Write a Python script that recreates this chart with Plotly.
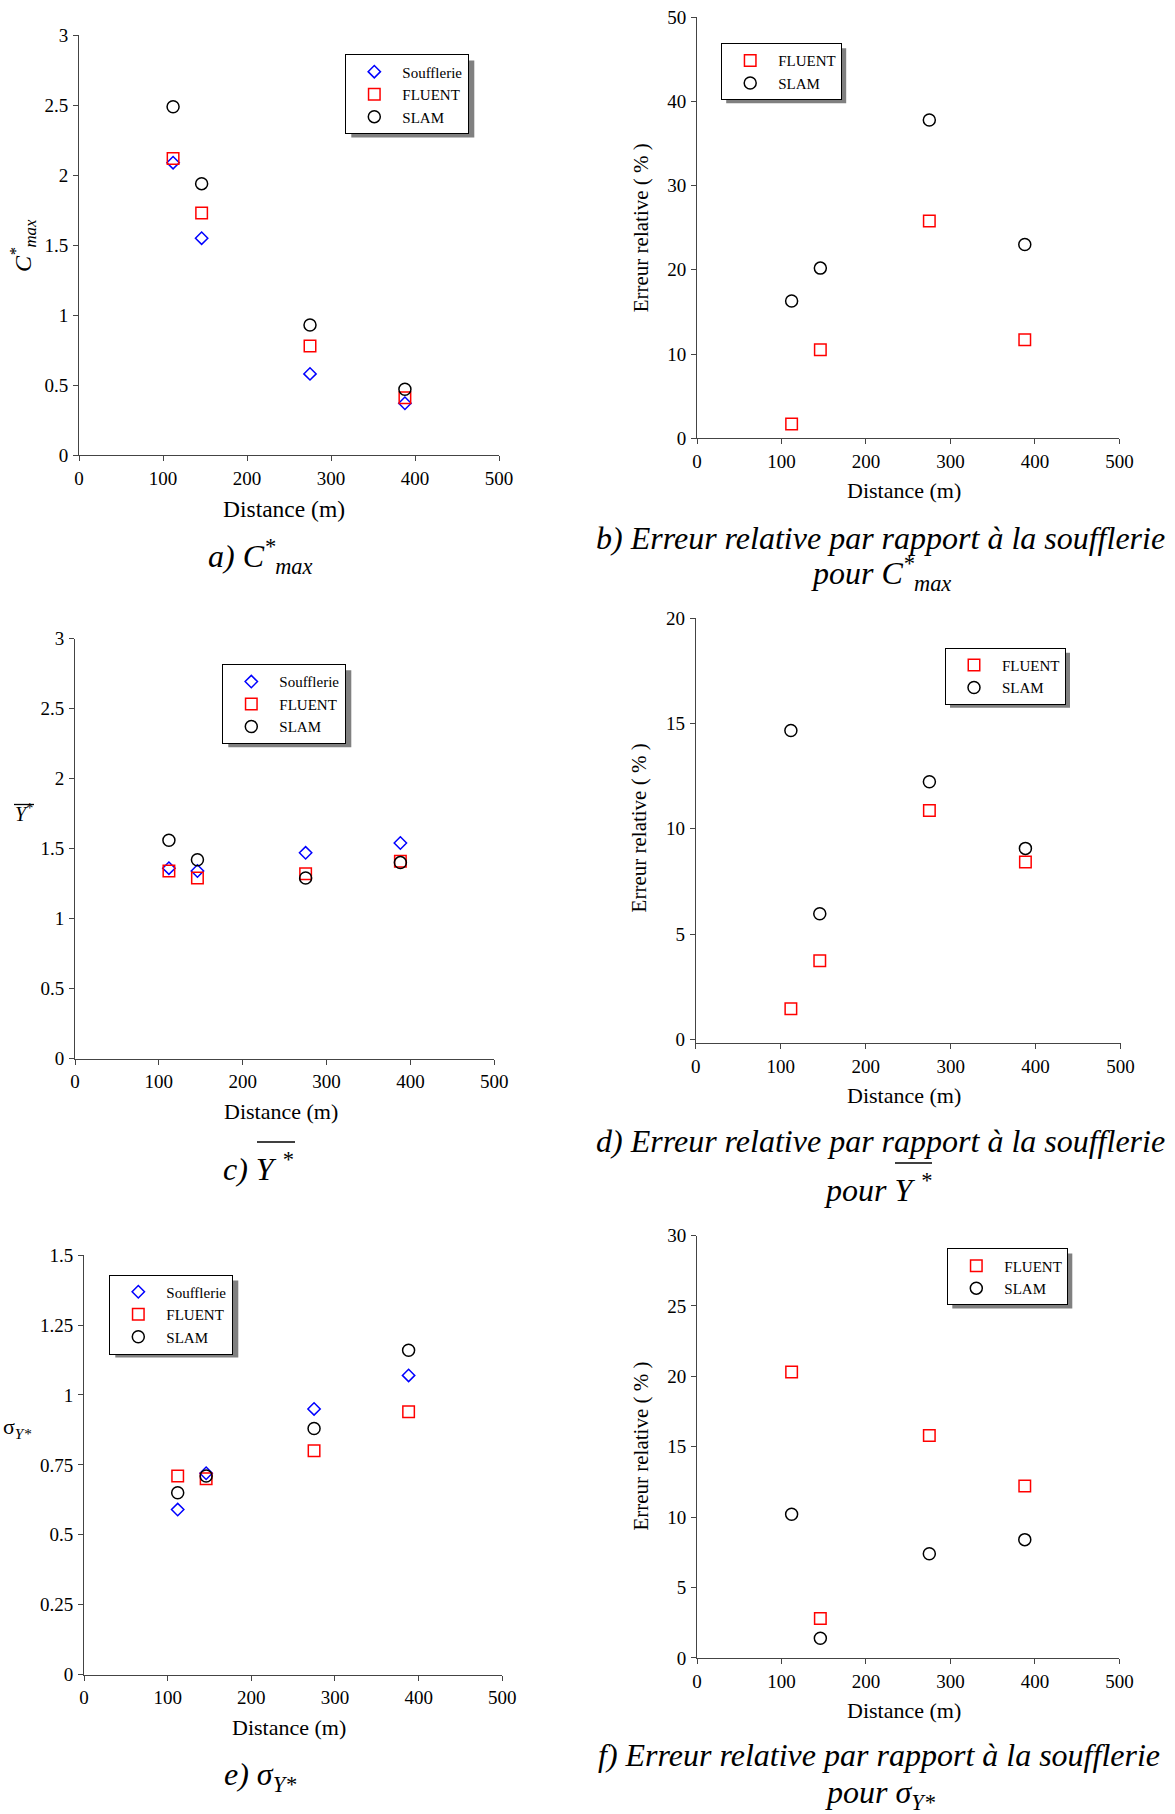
import plotly.graph_objects as go

W, H = 1175, 1814
FONT = "Liberation Serif, Times New Roman, serif"
AX = "#444444"

# ---------------- data ----------------
distance_m = [112, 146, 275, 388]
x_tick_vals = [0, 100, 200, 300, 400, 500]

cmax_soufflerie = [2.09, 1.55, 0.58, 0.37]
cmax_fluent = [2.12, 1.73, 0.78, 0.41]
cmax_slam = [2.49, 1.94, 0.93, 0.47]

err_cmax_fluent = [1.7, 10.5, 25.8, 11.7]
err_cmax_slam = [16.3, 20.2, 37.8, 23.0]

ymean_soufflerie = [1.36, 1.34, 1.47, 1.54]
ymean_fluent = [1.34, 1.29, 1.32, 1.41]
ymean_slam = [1.56, 1.42, 1.29, 1.40]

err_ymean_fluent = [1.45, 3.73, 10.87, 8.42]
err_ymean_slam = [14.67, 5.96, 12.24, 9.07]

sigma_soufflerie = [0.59, 0.72, 0.95, 1.07]
sigma_fluent = [0.71, 0.70, 0.80, 0.94]
sigma_slam = [0.65, 0.71, 0.88, 1.16]

err_sigma_fluent = [20.3, 2.8, 15.8, 12.2]
err_sigma_slam = [10.2, 1.4, 7.4, 8.4]

# ---------------- styles ----------------
STY = {
    "Soufflerie": dict(symbol="diamond-open", color="#0000FF", size=9.5),
    "FLUENT": dict(symbol="square-open", color="#FF0000", size=11.5),
    "SLAM": dict(symbol="circle-open", color="#000000", size=12),
}


def fx(p):
    return p / W


def fy(p):
    return 1 - p / H


# pixel boxes of plotting areas: (left, right, top, bottom), y range, dtick, legend top-left
panels = [
    dict(box=(79, 499, 35.4, 455), yr=[0, 3], dt=0.5, leg=(345.3, 54.4), shadow=6,
         series=[("Soufflerie", cmax_soufflerie), ("FLUENT", cmax_fluent), ("SLAM", cmax_slam)]),
    dict(box=(697, 1119.4, 17.2, 438.2), yr=[0, 50], dt=10, leg=(721.2, 43.2), shadow=5,
         series=[("FLUENT", err_cmax_fluent), ("SLAM", err_cmax_slam)]),
    dict(box=(75, 494.3, 638.7, 1058.5), yr=[0, 3], dt=0.5, leg=(222.3, 664.3), shadow=6,
         series=[("Soufflerie", ymean_soufflerie), ("FLUENT", ymean_fluent), ("SLAM", ymean_slam)]),
    dict(box=(695.7, 1120.6, 618.4, 1042.8), yr=[-0.17, 20], dt=5, leg=(945, 647.8), shadow=5,
         series=[("FLUENT", err_ymean_fluent), ("SLAM", err_ymean_slam)]),
    dict(box=(84, 502.3, 1255.2, 1674.5), yr=[0, 1.5], dt=0.25, leg=(109.3, 1274.5), shadow=6,
         series=[("Soufflerie", sigma_soufflerie), ("FLUENT", sigma_fluent), ("SLAM", sigma_slam)]),
    dict(box=(697, 1119.4, 1235.5, 1657.9), yr=[0, 30], dt=5, leg=(947.3, 1248.4), shadow=5,
         series=[("FLUENT", err_sigma_fluent), ("SLAM", err_sigma_slam)]),
]

# approximate rendered legend box sizes (px) for 3- and 2-entry legends
LEG_SIZE = {3: (123, 77), 2: (120, 55)}

fig = go.Figure()
layout = dict(
    width=W, height=H, margin=dict(l=0, r=0, t=0, b=0, autoexpand=False),
    paper_bgcolor="white", plot_bgcolor="white",
    font=dict(family=FONT, color="black"),
    showlegend=True,
)
shapes = []

for i, p in enumerate(panels):
    n = i + 1
    sfx = "" if n == 1 else str(n)
    L, R, T, B = p["box"]
    for name, vals in p["series"]:
        st = STY[name]
        fig.add_trace(go.Scatter(
            x=distance_m, y=vals, mode="markers", name=name,
            marker=dict(symbol=st["symbol"], size=st["size"], color=st["color"],
                        line=dict(color=st["color"], width=1.5)),
            xaxis="x" + sfx, yaxis="y" + sfx, legend="legend" + sfx,
        ))
    common = dict(showline=True, linecolor=AX, linewidth=1, ticks="outside", ticklen=5,
                  tickcolor=AX, tickwidth=1, showgrid=False, zeroline=False, automargin=False,
                  tickfont=dict(family=FONT, size=19, color="black"), fixedrange=True)
    layout["xaxis" + sfx] = dict(domain=[fx(L), fx(R)], range=[0, 500], tickvals=x_tick_vals,
                                 anchor="y" + sfx, ticklabelstandoff=1, **common)
    layout["yaxis" + sfx] = dict(domain=[fy(B), fy(T)], range=p["yr"], dtick=p["dt"], tick0=0,
                                 anchor="x" + sfx, ticklabelstandoff=1, **common)
    lx, ly = p["leg"]
    layout["legend" + sfx] = dict(
        x=fx(lx), y=fy(ly), xanchor="left", yanchor="top",
        bgcolor="white", bordercolor="black", borderwidth=1,
        font=dict(family=FONT, size=15, color="black"), itemwidth=46,
        tracegroupgap=0,
    )
    # drop shadow of the legend box
    lw, lh = LEG_SIZE[len(p["series"])]
    o = p["shadow"]
    shapes.append(dict(type="rect", xref="paper", yref="paper",
                       x0=fx(lx + o), x1=fx(lx + lw + o), y0=fy(ly + lh + o), y1=fy(ly + o),
                       fillcolor="#808080", line=dict(width=0), layer="above"))


def overline(x0, x1, y, w=1.6):
    shapes.append(dict(type="line", xref="paper", yref="paper",
                       x0=fx(x0), x1=fx(x1), y0=fy(y), y1=fy(y),
                       line=dict(color="black", width=w), layer="above"))


ann = []


def A(x, y, text, size, angle=0, xanchor="center"):
    ann.append(dict(x=fx(x), y=fy(y), xref="paper", yref="paper", text=text, showarrow=False,
                    textangle=angle, xanchor=xanchor, yanchor="middle",
                    font=dict(family=FONT, size=size, color="black")))


# x-axis titles
A(284, 508.6, "Distance (m)", 23.5)
A(903.8, 490.6, "Distance (m)", 22)
A(281, 1111.7, "Distance (m)", 22)
A(903.8, 1095.6, "Distance (m)", 22)
A(288.7, 1727.6, "Distance (m)", 22)
A(903.8, 1710.9, "Distance (m)", 22)

# y-axis titles
A(23, 245, "<i>C<sup>*</sup><sub>max</sub></i>", 24, angle=-90)
A(640.6, 227.7, "Erreur relative ( % )", 21, angle=-90)
A(24, 813, "<i>Y</i><sup>*</sup>", 20)
overline(14, 34, 804.5, 1.3)
A(638.7, 827.7, "Erreur relative ( % )", 21, angle=-90)
A(17, 1428, "σ<sub><i>Y*</i></sub>", 22)
A(640.6, 1446, "Erreur relative ( % )", 21, angle=-90)

# captions
CS = 32
A(260.5, 556, "<i>a) C<sup>*</sup><sub>max</sub></i>", CS)
A(880.6, 537.5, "<i>b) Erreur relative par rapport à la soufflerie</i>", CS)
A(880.6, 573, "<i>pour C<sup>*</sup><sub>max</sub></i>", CS)
A(258, 1167, "<i>c) Y <sup>*</sup></i>", CS)
overline(257, 295, 1142)
A(880.6, 1140.5, "<i>d) Erreur relative par rapport à la soufflerie</i>", CS)
A(878, 1188, "<i>pour Y <sup>*</sup></i>", CS)
overline(895, 932, 1163)
A(260, 1776.5, "<i>e) σ<sub>Y*</sub></i>", CS)
A(878.7, 1755, "<i>f) Erreur relative par rapport à la soufflerie</i>", CS)
A(880.7, 1794.5, "<i>pour σ<sub>Y*</sub></i>", CS)

layout["annotations"] = ann
layout["shapes"] = shapes
fig.update_layout(**layout)
fig.write_html(
    "out.html",
    config={"displayModeBar": False},
    post_script="document.body.style.margin='0px';document.body.style.overflow='hidden';",
)
